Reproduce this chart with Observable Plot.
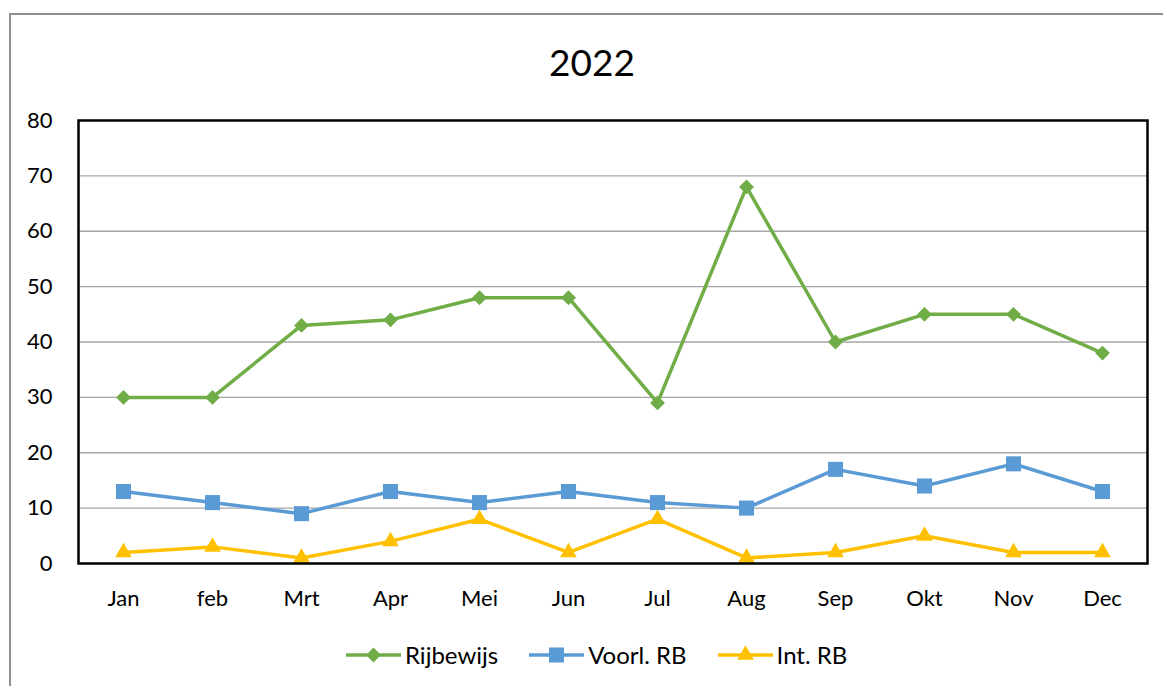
<!DOCTYPE html>
<html>
<head>
<meta charset="utf-8">
<script src="https://cdn.jsdelivr.net/npm/d3@7"></script>
<script src="https://cdn.jsdelivr.net/npm/@observablehq/plot@0.6"></script>
<style>
  html, body { margin: 0; padding: 0; background: #fff; overflow: hidden; }
  #wrap { position: relative; width: 1163px; height: 686px; font-family: Lato, "Open Sans", sans-serif; }
  #outer { position: absolute; left: 9px; top: 13px; width: 1170px; height: 700px; border: 2px solid #8f8f8f; box-sizing: border-box; }
  #title { position: absolute; left: 492px; width: 200px; top: 43px; text-align: center; font-size: 37px; line-height: 1; color: #000; }
  #chart { position: absolute; left: 0; top: 0; }
  #legend { position: absolute; left: 346px; top: 640px; height: 30px; display: flex; align-items: center; font-size: 24px; line-height: 30px; color: #000; }
  .item { display: flex; align-items: center; margin-right: 31px; }
  .item svg { margin-right: 4px; }
</style>
</head>
<body>
<div id="wrap">
  <div id="outer"></div>
  <div id="chart"></div>
  <div id="title">2022</div>
  <div id="legend"></div>
</div>
<script>
const months = ["Jan","feb","Mrt","Apr","Mei","Jun","Jul","Aug","Sep","Okt","Nov","Dec"];
const rijbewijs = [30,30,43,44,48,48,29,68,40,45,45,38];
const voorlRB = [13,11,9,13,11,13,11,10,17,14,18,13];
const intRB = [2,3,1,4,8,2,8,1,2,5,2,2];
const seriesNames = ["Rijbewijs","Voorl. RB","Int. RB"];
const seriesColors = ["#70ad47","#5b9bd5","#ffc000"];
const seriesSymbols = ["diamond2","square","triangle"];
const seriesR = [6.7,8.5,6.2];
const yTicks = [0,10,20,30,40,50,60,70,80];

const seriesValues = [rijbewijs, voorlRB, intRB];
const data = [];
seriesNames.forEach((s, i) => seriesValues[i].forEach((v, j) => data.push({series: s, month: months[j], value: v})));

const dotMarks = seriesNames.map((s, i) =>
  Plot.dot(data.filter(d => d.series === s), {x: "month", y: "value", fill: seriesColors[i], symbol: seriesSymbols[i], r: seriesR[i]})
);

const chart = Plot.plot({
  width: 1163,
  height: 686,
  marginLeft: 78,
  marginRight: 16,
  marginTop: 120,
  marginBottom: 123,
  style: {fontFamily: "Lato, 'Open Sans', sans-serif", fontSize: "22px", color: "#000", background: "transparent"},
  x: {type: "point", domain: months, padding: 0.5, label: null},
  y: {domain: [0, 80], label: null},
  color: {domain: seriesNames, range: seriesColors},
  marks: [
    Plot.gridY(yTicks.slice(1, -1), {stroke: "#a6a6a6", strokeOpacity: 1, strokeWidth: 1.4}),
    Plot.axisY(yTicks, {tickSize: 0, tickPadding: 26, fontSize: 22, label: null}),
    Plot.axisX({tickSize: 0, tickPadding: 27, fontSize: 22, label: null}),
    Plot.line(data, {x: "month", y: "value", z: "series", stroke: "series", strokeWidth: 3.5}),
    ...dotMarks,
    Plot.frame({stroke: "#000", strokeWidth: 2.5})
  ]
});
document.getElementById("chart").appendChild(chart);

// legend
const legend = document.getElementById("legend");
const symTypes = {diamond2: d3.symbolDiamond2, square: d3.symbolSquare, triangle: d3.symbolTriangle};
seriesNames.forEach((s, i) => {
  const item = document.createElement("div");
  item.className = "item";
  const sym = d3.symbol(symTypes[seriesSymbols[i]], Math.PI * seriesR[i] * seriesR[i])();
  item.innerHTML = `<svg width="55" height="22" viewBox="0 0 55 22"><line x1="0" x2="55" y1="11" y2="11" stroke="${seriesColors[i]}" stroke-width="3.5"/><path transform="translate(27.5,11)" d="${sym}" fill="${seriesColors[i]}"/></svg><span>${s}</span>`;
  legend.appendChild(item);
});
</script>
</body>
</html>
